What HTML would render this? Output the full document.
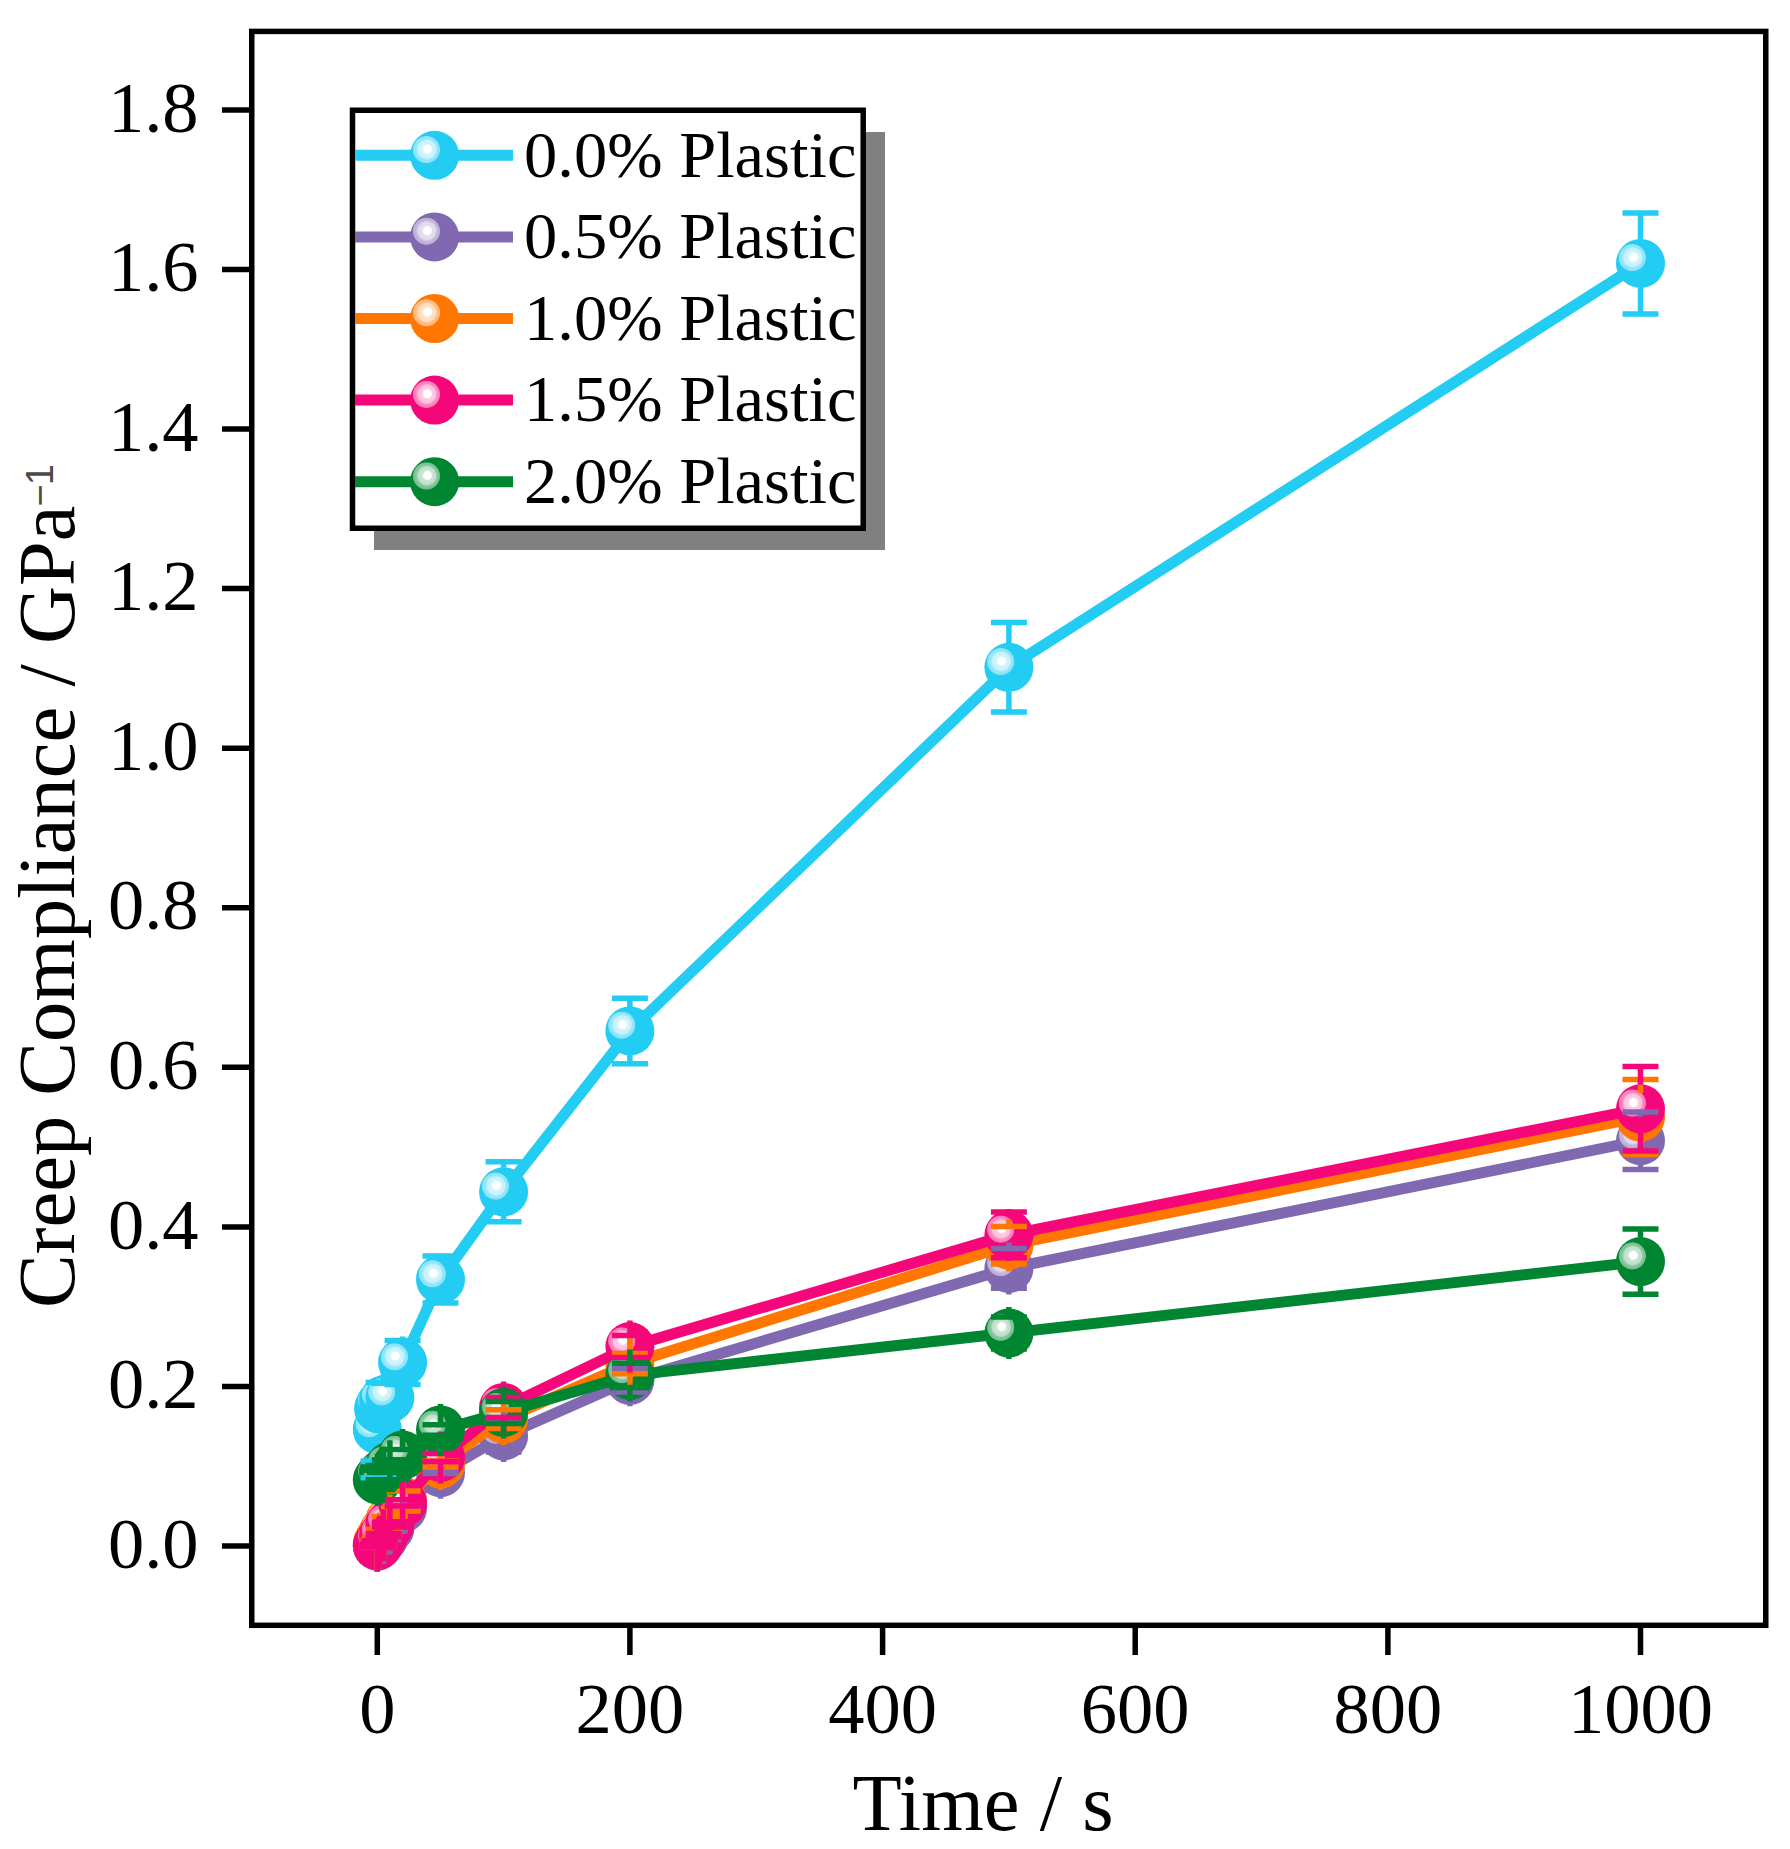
<!DOCTYPE html>
<html lang="en"><head><meta charset="utf-8"><title>Creep Compliance vs Time</title>
<style>
html,body{margin:0;padding:0;background:#fff;}
body{width:1790px;height:1849px;overflow:hidden;}
svg{display:block;}
text{font-family:"Liberation Serif","Times New Roman",Times,serif;fill:#000;}
.tk{font-size:72.5px;}
.tt{font-size:80.5px;}
.lg{font-size:66.5px;}
.sp{font-family:"Liberation Sans",Arial,sans-serif;font-size:38px;fill:#4a4a4a;}
.ax{stroke:#000;stroke-width:5.5;fill:none;stroke-linecap:butt;}
.c0{stroke:#22ccf3;fill:#22ccf3;}
.c1{stroke:#8069b1;fill:#8069b1;}
.c2{stroke:#ff7700;fill:#ff7700;}
.c3{stroke:#f5077a;fill:#f5077a;}
.c4{stroke:#008531;fill:#008531;}
.ln{fill:none;stroke-width:11;stroke-linejoin:round;stroke-linecap:butt;}
.eb{fill:none;stroke-width:5.5;stroke-linecap:butt;}
.b{stroke:none;}
</style></head><body>
<svg width="1790" height="1849" viewBox="0 0 1790 1849">
<defs>
<radialGradient id="hl" cx="0.5" cy="0.5" r="0.5" fx="0.553" fy="0.468">
<stop offset="0" stop-color="#fff" stop-opacity="1"/>
<stop offset="0.27" stop-color="#fff" stop-opacity="1"/>
<stop offset="0.36" stop-color="#fff" stop-opacity="0.8"/>
<stop offset="0.64" stop-color="#fff" stop-opacity="0.74"/>
<stop offset="0.72" stop-color="#fff" stop-opacity="0.56"/>
<stop offset="0.94" stop-color="#fff" stop-opacity="0.45"/>
<stop offset="1" stop-color="#fff" stop-opacity="0"/>
</radialGradient>
<g id="hb"><circle class="b" r="24.5"/><circle r="14" cx="-8.2" cy="-5.7" fill="url(#hl)" stroke="none"/></g>
</defs>
<rect x="0" y="0" width="1790" height="1849" fill="#fff"/>
<g id="plots">
<g class="c0">
<polyline class="ln" points="377.3,1429.5 378.6,1408.8 379.8,1405.6 383.6,1400.0 389.9,1397.6 402.6,1362.5 440.5,1279.5 503.6,1191.8 629.9,1030.9 1008.9,667.3 1640.5,263.4"/>
<use href="#hb" x="377.3" y="1429.5"/>
<use href="#hb" x="378.6" y="1408.8"/>
<use href="#hb" x="379.8" y="1405.6"/>
<use href="#hb" x="383.6" y="1400.0"/>
<use href="#hb" x="389.9" y="1397.6"/>
<use href="#hb" x="402.6" y="1362.5"/>
<use href="#hb" x="440.5" y="1279.5"/>
<use href="#hb" x="503.6" y="1191.8"/>
<use href="#hb" x="629.9" y="1030.9"/>
<use href="#hb" x="1008.9" y="667.3"/>
<use href="#hb" x="1640.5" y="263.4"/>
</g>
<g class="c1">
<polyline class="ln" points="377.3,1546.0 378.6,1544.4 379.8,1542.8 383.6,1538.0 389.9,1528.4 402.6,1508.1 440.5,1472.7 503.6,1435.9 629.9,1380.3 1008.9,1268.4 1640.5,1140.7"/>
<use href="#hb" x="377.3" y="1546.0"/>
<use href="#hb" x="378.6" y="1544.4"/>
<use href="#hb" x="379.8" y="1542.8"/>
<use href="#hb" x="383.6" y="1538.0"/>
<use href="#hb" x="389.9" y="1528.4"/>
<use href="#hb" x="402.6" y="1508.1"/>
<use href="#hb" x="440.5" y="1472.7"/>
<use href="#hb" x="503.6" y="1435.9"/>
<use href="#hb" x="629.9" y="1380.3"/>
<use href="#hb" x="1008.9" y="1268.4"/>
<use href="#hb" x="1640.5" y="1140.7"/>
</g>
<g class="c2">
<polyline class="ln" points="377.3,1543.6 378.6,1541.2 379.8,1538.8 383.6,1531.6 389.9,1520.5 402.6,1501.0 440.5,1464.0 503.6,1419.1 629.9,1363.6 1008.9,1245.2 1640.5,1117.1"/>
<use href="#hb" x="377.3" y="1543.6"/>
<use href="#hb" x="378.6" y="1541.2"/>
<use href="#hb" x="379.8" y="1538.8"/>
<use href="#hb" x="383.6" y="1531.6"/>
<use href="#hb" x="389.9" y="1520.5"/>
<use href="#hb" x="402.6" y="1501.0"/>
<use href="#hb" x="440.5" y="1464.0"/>
<use href="#hb" x="503.6" y="1419.1"/>
<use href="#hb" x="629.9" y="1363.6"/>
<use href="#hb" x="1008.9" y="1245.2"/>
<use href="#hb" x="1640.5" y="1117.1"/>
</g>
<g class="c3">
<polyline class="ln" points="377.3,1545.6 378.6,1543.6 379.8,1541.6 383.6,1535.2 389.9,1524.5 402.6,1502.9 440.5,1457.4 503.6,1407.5 629.9,1346.6 1008.9,1234.9 1640.5,1108.8"/>
<use href="#hb" x="377.3" y="1545.6"/>
<use href="#hb" x="378.6" y="1543.6"/>
<use href="#hb" x="379.8" y="1541.6"/>
<use href="#hb" x="383.6" y="1535.2"/>
<use href="#hb" x="389.9" y="1524.5"/>
<use href="#hb" x="402.6" y="1502.9"/>
<use href="#hb" x="440.5" y="1457.4"/>
<use href="#hb" x="503.6" y="1407.5"/>
<use href="#hb" x="629.9" y="1346.6"/>
<use href="#hb" x="1008.9" y="1234.9"/>
<use href="#hb" x="1640.5" y="1108.8"/>
</g>
<g class="c4">
<polyline class="ln" points="377.3,1479.8 378.6,1478.2 379.8,1476.6 383.6,1472.6 389.9,1466.2 402.6,1455.1 440.5,1430.0 503.6,1412.4 629.9,1375.4 1008.9,1333.0 1640.5,1261.6"/>
<use href="#hb" x="377.3" y="1479.8"/>
<use href="#hb" x="378.6" y="1478.2"/>
<use href="#hb" x="379.8" y="1476.6"/>
<use href="#hb" x="383.6" y="1472.6"/>
<use href="#hb" x="389.9" y="1466.2"/>
<use href="#hb" x="402.6" y="1455.1"/>
<use href="#hb" x="440.5" y="1430.0"/>
<use href="#hb" x="503.6" y="1412.4"/>
<use href="#hb" x="629.9" y="1375.4"/>
<use href="#hb" x="1008.9" y="1333.0"/>
<use href="#hb" x="1640.5" y="1261.6"/>
</g>
</g>
<g id="errbars">
<path class="eb c0" d="M383.6 1382.5V1374.0M383.6 1417.6V1426.0M365.6 1382.5H401.6M365.6 1417.6H401.6M389.9 1383.2V1371.6M389.9 1412.0V1423.6M371.9 1383.2H407.9M371.9 1412.0H407.9M402.6 1340.4V1336.5M402.6 1384.6V1388.5M384.6 1340.4H420.6M384.6 1384.6H420.6M440.5 1256.0V1253.5M440.5 1303.1V1305.5M422.5 1256.0H458.5M422.5 1303.1H458.5M503.6 1161.8V1167.8M503.6 1221.8V1215.8M485.6 1161.8H521.6M485.6 1221.8H521.6M629.9 998.2V1006.9M629.9 1063.7V1054.9M611.9 998.2H647.9M611.9 1063.7H647.9M1008.9 622.6V643.3M1008.9 712.0V691.3M990.9 622.6H1026.9M990.9 712.0H1026.9M1640.5 212.9V239.4M1640.5 313.9V287.4M1622.5 212.9H1658.5M1622.5 313.9H1658.5M360.5 1461H396.5M360.5 1477.7H396.5"/>
<path class="eb c1" d="M377.3 1545.2V1520.0M377.3 1546.8V1572.0M359.3 1545.2H395.3M359.3 1546.8H395.3M378.6 1543.6V1518.4M378.6 1545.2V1570.4M360.6 1543.6H396.6M360.6 1545.2H396.6M379.8 1542.0V1516.8M379.8 1543.6V1568.8M361.8 1542.0H397.8M361.8 1543.6H397.8M383.6 1536.4V1512.0M383.6 1539.6V1564.0M365.6 1536.4H401.6M365.6 1539.6H401.6M389.9 1526.1V1502.4M389.9 1530.8V1554.4M371.9 1526.1H407.9M371.9 1530.8H407.9M402.6 1505.7V1482.1M402.6 1510.5V1534.1M384.6 1505.7H420.6M384.6 1510.5H420.6M440.5 1471.9V1446.7M440.5 1473.5V1498.7M422.5 1471.9H458.5M422.5 1473.5H458.5M503.6 1419.9V1409.9M503.6 1451.9V1461.9M485.6 1419.9H521.6M485.6 1451.9H521.6M629.9 1368.7V1354.3M629.9 1391.9V1406.3M611.9 1368.7H647.9M611.9 1391.9H647.9M1008.9 1248.4V1242.4M1008.9 1288.3V1294.4M990.9 1248.4H1026.9M990.9 1288.3H1026.9M1640.5 1112.0V1116.7M1640.5 1169.4V1164.7M1622.5 1112.0H1658.5M1622.5 1169.4H1658.5"/>
<path class="eb c2" d="M377.3 1542.8V1517.6M377.3 1544.4V1569.6M359.3 1542.8H395.3M359.3 1544.4H395.3M378.6 1540.4V1515.2M378.6 1542.0V1567.2M360.6 1540.4H396.6M360.6 1542.0H396.6M379.8 1537.2V1512.8M379.8 1540.4V1564.8M361.8 1537.2H397.8M361.8 1540.4H397.8M383.6 1529.2V1505.6M383.6 1534.0V1557.6M365.6 1529.2H401.6M365.6 1534.0H401.6M389.9 1516.5V1494.5M389.9 1524.5V1546.5M371.9 1516.5H407.9M371.9 1524.5H407.9M402.6 1491.0V1475.0M402.6 1511.0V1527.0M384.6 1491.0H420.6M384.6 1511.0H420.6M440.5 1461.0V1438.0M440.5 1467.0V1490.0M422.5 1461.0H458.5M422.5 1467.0H458.5M503.6 1409.8V1393.1M503.6 1428.5V1445.1M485.6 1409.8H521.6M485.6 1428.5H521.6M629.9 1353.5V1337.6M629.9 1373.8V1389.6M611.9 1353.5H647.9M611.9 1373.8H647.9M1008.9 1226.6V1219.2M1008.9 1263.9V1271.2M990.9 1226.6H1026.9M990.9 1263.9H1026.9M1640.5 1079.6V1093.1M1640.5 1154.6V1141.1M1622.5 1079.6H1658.5M1622.5 1154.6H1658.5"/>
<path class="eb c3" d="M377.3 1544.8V1519.6M377.3 1546.4V1571.6M359.3 1544.8H395.3M359.3 1546.4H395.3M378.6 1542.8V1517.6M378.6 1544.4V1569.6M360.6 1542.8H396.6M360.6 1544.4H396.6M379.8 1540.8V1515.6M379.8 1542.4V1567.6M361.8 1540.8H397.8M361.8 1542.4H397.8M383.6 1533.6V1509.2M383.6 1536.8V1561.2M365.6 1533.6H401.6M365.6 1536.8H401.6M389.9 1522.1V1498.5M389.9 1526.9V1550.5M371.9 1522.1H407.9M371.9 1526.9H407.9M402.6 1499.7V1476.9M402.6 1506.1V1528.9M384.6 1499.7H420.6M384.6 1506.1H420.6M440.5 1453.5V1431.4M440.5 1461.4V1483.4M422.5 1453.5H458.5M422.5 1461.4H458.5M503.6 1397.4V1381.5M503.6 1417.6V1433.5M485.6 1397.4H521.6M485.6 1417.6H521.6M629.9 1335.6V1320.6M629.9 1357.6V1372.6M611.9 1335.6H647.9M611.9 1357.6H647.9M1008.9 1211.9V1208.9M1008.9 1257.8V1260.9M990.9 1211.9H1026.9M990.9 1257.8H1026.9M1640.5 1066.5V1084.8M1640.5 1151.1V1132.8M1622.5 1066.5H1658.5M1622.5 1151.1H1658.5"/>
<path class="eb c4" d="M377.3 1470.2V1453.8M377.3 1489.4V1505.8M359.3 1470.2H395.3M359.3 1489.4H395.3M378.6 1468.6V1452.2M378.6 1487.8V1504.2M360.6 1468.6H396.6M360.6 1487.8H396.6M379.8 1467.0V1450.6M379.8 1486.2V1502.6M361.8 1467.0H397.8M361.8 1486.2H397.8M383.6 1465.4V1446.6M383.6 1479.8V1498.6M365.6 1465.4H401.6M365.6 1479.8H401.6M389.9 1459.8V1440.2M389.9 1472.6V1492.2M371.9 1459.8H407.9M371.9 1472.6H407.9M402.6 1449.5V1429.1M402.6 1460.6V1481.1M384.6 1449.5H420.6M384.6 1460.6H420.6M440.5 1424.8V1404.0M440.5 1435.2V1456.0M422.5 1424.8H458.5M422.5 1435.2H458.5M503.6 1401.4V1386.4M503.6 1423.5V1438.4M485.6 1401.4H521.6M485.6 1423.5H521.6M629.9 1363.3V1349.4M629.9 1387.6V1401.4M611.9 1363.3H647.9M611.9 1387.6H647.9M1008.9 1317.0V1307.0M1008.9 1348.9V1359.0M990.9 1317.0H1026.9M990.9 1348.9H1026.9M1640.5 1228.9V1237.6M1640.5 1294.3V1285.6M1622.5 1228.9H1658.5M1622.5 1294.3H1658.5"/>
</g>
<g id="axes">
<rect class="ax" x="251.75" y="31.4" width="1514" height="1593.9"/>
<path class="ax" d="M222 1546.0H250M222 1386.4H250M222 1226.9H250M222 1067.3H250M222 907.8H250M222 748.2H250M222 588.6H250M222 429.1H250M222 269.5H250M222 110.0H250M377.3 1627V1655M629.9 1627V1655M882.6 1627V1655M1135.2 1627V1655M1387.9 1627V1655M1640.5 1627V1655"/>
<text class="tk" text-anchor="end" x="198.6" y="1567.6">0.0</text>
<text class="tk" text-anchor="end" x="198.6" y="1408.0">0.2</text>
<text class="tk" text-anchor="end" x="198.6" y="1248.5">0.4</text>
<text class="tk" text-anchor="end" x="198.6" y="1088.9">0.6</text>
<text class="tk" text-anchor="end" x="198.6" y="929.4">0.8</text>
<text class="tk" text-anchor="end" x="198.6" y="769.8">1.0</text>
<text class="tk" text-anchor="end" x="198.6" y="610.2">1.2</text>
<text class="tk" text-anchor="end" x="198.6" y="450.7">1.4</text>
<text class="tk" text-anchor="end" x="198.6" y="291.1">1.6</text>
<text class="tk" text-anchor="end" x="198.6" y="131.6">1.8</text>
<text class="tk" text-anchor="middle" x="377.3" y="1732.8">0</text>
<text class="tk" text-anchor="middle" x="629.9" y="1732.8">200</text>
<text class="tk" text-anchor="middle" x="882.6" y="1732.8">400</text>
<text class="tk" text-anchor="middle" x="1135.2" y="1732.8">600</text>
<text class="tk" text-anchor="middle" x="1387.9" y="1732.8">800</text>
<text class="tk" text-anchor="middle" x="1640.5" y="1732.8">1000</text>
<text class="tt" text-anchor="middle" x="983" y="1829.5">Time / s</text>
<text class="tt" text-anchor="start" transform="translate(73.5 1308) rotate(-90)">Creep Compliance / GPa<tspan class="sp" dy="-21" dx="-1">−</tspan><tspan class="sp" dx="-1">1</tspan></text>
</g>
<g id="legend">
<rect x="374" y="132" width="511" height="418" fill="#808080"/>
<rect x="352.5" y="110.25" width="510.7" height="418" fill="#fff" stroke="#000" stroke-width="5.5"/>
<g class="c0"><path class="ln" d="M355 155.3H513"/><use href="#hb" x="434.6" y="155.3"/></g>
<text class="lg" x="524" y="176.5">0.0% Plastic</text>
<g class="c1"><path class="ln" d="M355 236.9H513"/><use href="#hb" x="434.6" y="236.9"/></g>
<text class="lg" x="524" y="258.1">0.5% Plastic</text>
<g class="c2"><path class="ln" d="M355 318.5H513"/><use href="#hb" x="434.6" y="318.5"/></g>
<text class="lg" x="524" y="339.7">1.0% Plastic</text>
<g class="c3"><path class="ln" d="M355 400.1H513"/><use href="#hb" x="434.6" y="400.1"/></g>
<text class="lg" x="524" y="421.3">1.5% Plastic</text>
<g class="c4"><path class="ln" d="M355 481.7H513"/><use href="#hb" x="434.6" y="481.7"/></g>
<text class="lg" x="524" y="502.9">2.0% Plastic</text>
</g>
</svg>
</body></html>
